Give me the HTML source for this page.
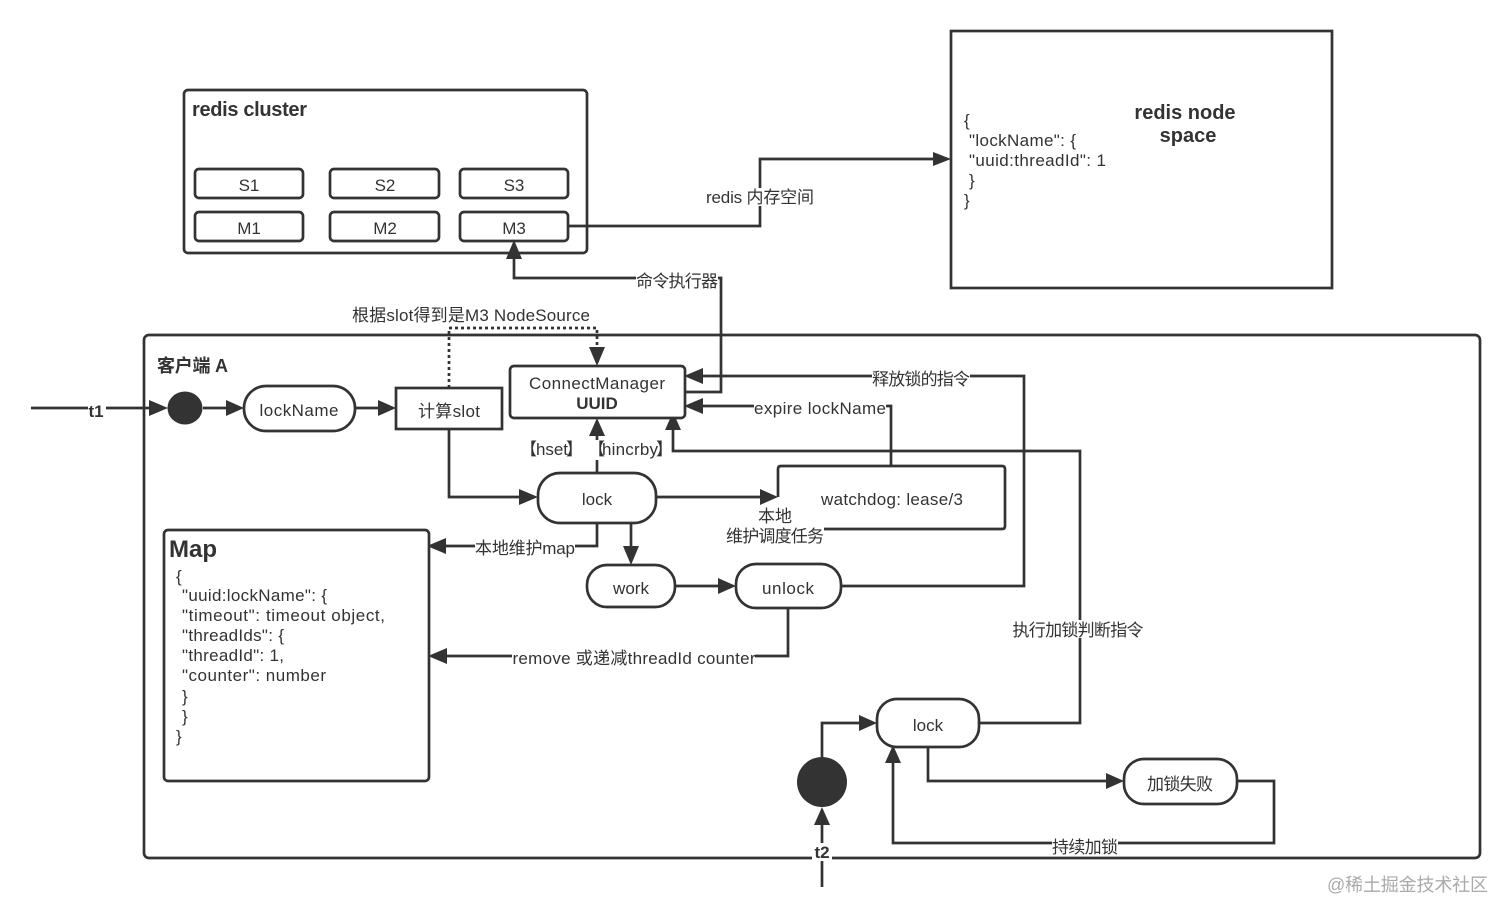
<!DOCTYPE html>
<html><head><meta charset="utf-8">
<style>
html,body{margin:0;padding:0;background:#fff;width:1512px;height:919px;overflow:hidden}
svg{display:block;filter:blur(0.35px)}
text{font-family:"Liberation Sans","Noto Sans CJK SC",sans-serif;font-size:17px;fill:#333}
.c{text-anchor:middle}
.b{font-weight:bold}
.n{fill:#fff;stroke:#333;stroke-width:2.7}
.l{fill:none;stroke:#333;stroke-width:2.7}
.a{fill:#333;stroke:none}
.w{fill:#fff;stroke:none}
</style></head><body>
<svg width="1512" height="919" viewBox="0 0 1512 919" xmlns="http://www.w3.org/2000/svg">
<!-- containers -->
<rect class="n" x="184" y="90" width="403" height="163" rx="4"/>
<rect class="n" x="951" y="31" width="381" height="257"/>
<rect class="n" x="144" y="335" width="1336" height="523" rx="5"/>
<!-- cluster nodes -->
<rect class="n" x="195" y="169" width="108" height="29" rx="4"/>
<rect class="n" x="330" y="169" width="109" height="29" rx="4"/>
<rect class="n" x="460" y="169" width="108" height="29" rx="4"/>
<rect class="n" x="195" y="212" width="108" height="29" rx="4"/>
<rect class="n" x="330" y="212" width="109" height="29" rx="4"/>
<rect class="n" x="460" y="212" width="108" height="29" rx="4"/>
<!-- connectors -->
<path class="l" d="M31 408H155"/>
<path class="l" d="M203 408H232"/>
<path class="l" d="M355 408H384"/>
<path class="l" d="M449 388V328H597V354" stroke-dasharray="3 3"/>
<path class="l" d="M449 429V497H526"/>
<path class="l" d="M597 473V428"/>
<path class="l" d="M685 392H721V278H514V254"/>
<path class="l" d="M568 226H760V159H938"/>
<path class="l" d="M841 586H1024V376H697"/>
<path class="l" d="M891 466V406H697"/>
<path class="l" d="M979 723H1080V451H673V425"/>
<path class="l" d="M656 497H766"/>
<path class="l" d="M597 523V546H441"/>
<path class="l" d="M631 523V553"/>
<path class="l" d="M675 586H724"/>
<path class="l" d="M788 608V656H441"/>
<path class="l" d="M822 887V820"/>
<path class="l" d="M822 757V723H865"/>
<path class="l" d="M928 747V781H1112"/>
<path class="l" d="M1237 781H1274V843H893V758"/>
<!-- arrowheads -->
<polygon class="a" points="168,408 149,400 149,416"/>
<polygon class="a" points="244,408 226,400 226,416"/>
<polygon class="a" points="396,408 378,400 378,416"/>
<polygon class="a" points="597,366 589,347 605,347"/>
<polygon class="a" points="538,497 519,489 519,505"/>
<polygon class="a" points="597,418 589,436 605,436"/>
<polygon class="a" points="514,240 506,259 522,259"/>
<polygon class="a" points="951,159 933,152 933,166"/>
<polygon class="a" points="684,376 703,368 703,384"/>
<polygon class="a" points="684,406 703,398 703,414"/>
<polygon class="a" points="673,412 665,430 681,430"/>
<polygon class="a" points="778,497 760,489 760,505"/>
<polygon class="a" points="427,546 446,538 446,554"/>
<polygon class="a" points="631,565 623,546 639,546"/>
<polygon class="a" points="736,586 718,578 718,594"/>
<polygon class="a" points="428,656 447,648 447,664"/>
<polygon class="a" points="822,807 814,825 830,825"/>
<polygon class="a" points="877,723 859,715 859,731"/>
<polygon class="a" points="1124,781 1106,773 1106,789"/>
<polygon class="a" points="893,745 885,763 901,763"/>
<!-- nodes -->
<ellipse class="a" cx="185" cy="408" rx="17.5" ry="16.5"/>
<ellipse class="a" cx="822" cy="782" rx="25" ry="25"/>
<rect class="n" x="244" y="386" width="111" height="45" rx="22"/>
<rect class="n" x="396" y="388" width="106" height="41"/>
<rect class="n" x="510" y="366" width="175" height="52" rx="4"/>
<rect class="n" x="538" y="473" width="118" height="50" rx="22"/>
<path class="n" d="M778 497V469Q778 466 781 466H1002Q1005 466 1005 469V526Q1005 529 1002 529H800"/>
<rect class="n" x="164" y="530" width="265" height="251" rx="4"/>
<rect class="n" x="587" y="565" width="88" height="42" rx="20"/>
<rect class="n" x="736" y="564" width="105" height="44" rx="20"/>
<rect class="n" x="877" y="699" width="102" height="48" rx="20"/>
<rect class="n" x="1124" y="759" width="113" height="45" rx="20"/>
<!-- label backgrounds -->
<rect class="w" x="88" y="400" width="18" height="18"/>
<rect class="w" x="636" y="272" width="82" height="18"/>
<rect class="w" x="706" y="188" width="108" height="18"/>
<rect class="w" x="872" y="369" width="98" height="18"/>
<rect class="w" x="754" y="398" width="132" height="18"/>
<rect class="w" x="1013" y="620" width="131" height="18"/>
<rect class="w" x="475" y="538" width="100" height="18"/>
<rect class="w" x="512" y="648" width="243" height="18"/>
<rect class="w" x="1052" y="837" width="66" height="18"/>
<rect class="w" x="812" y="843" width="20" height="18"/>
<rect class="w" x="726" y="506" width="98" height="40"/>
<rect class="w" x="522" y="440" width="146" height="20"/>
<!-- text -->
<text class="b" x="192" y="116" style="font-size:20px" textLength="115">redis cluster</text>
<text class="c" x="249" y="191">S1</text>
<text class="c" x="385" y="191">S2</text>
<text class="c" x="514" y="191">S3</text>
<text class="c" x="249" y="234">M1</text>
<text class="c" x="385" y="234">M2</text>
<text class="c" x="514" y="234">M3</text>
<text class="c b" x="1185" y="119" style="font-size:20px">redis node</text>
<text class="c b" x="1188" y="142" style="font-size:20px">space</text>
<text x="964" y="126">{</text>
<text x="969" y="146" textLength="107">"lockName": {</text>
<text x="969" y="166" textLength="137">"uuid:threadId": 1</text>
<text x="969" y="186">}</text>
<text x="964" y="206">}</text>
<text class="c" x="760" y="203" textLength="108">redis 内存空间</text>
<text class="c" x="677" y="287" textLength="82">命令执行器</text>
<text x="352" y="321" textLength="238">根据slot得到是M3 NodeSource</text>
<text class="b" x="157" y="372" style="font-size:18px" textLength="71">客户端 A</text>
<text class="c b" x="96" y="417">t1</text>
<text class="c" x="299" y="416" textLength="79">lockName</text>
<text class="c" x="449" y="417" textLength="62">计算slot</text>
<text class="c" x="597" y="389" textLength="136">ConnectManager</text>
<text class="c b" x="597" y="409">UUID</text>
<text x="520" y="455">【</text>
<text x="536" y="455" textLength="32">hset</text>
<text x="566" y="455">】</text>
<text x="588" y="455">【</text>
<text x="602" y="455" textLength="56">hincrby</text>
<text x="656" y="455">】</text>
<text class="c" x="597" y="505">lock</text>
<text class="c" x="892" y="505" textLength="142">watchdog: lease/3</text>
<text class="c" x="775" y="522">本地</text>
<text class="c" x="775" y="542" textLength="98">维护调度任务</text>
<text class="c" x="921" y="385" textLength="98">释放锁的指令</text>
<text class="c" x="820" y="414" textLength="132">expire lockName</text>
<text class="c" x="525" y="554" textLength="100">本地维护map</text>
<text class="c" x="631" y="594">work</text>
<text class="c" x="788" y="594" textLength="52">unlock</text>
<text class="c" x="634" y="664" textLength="243">remove 或递减threadId counter</text>
<text class="c" x="1078" y="636" textLength="131">执行加锁判断指令</text>
<text class="c" x="928" y="731">lock</text>
<text class="c" x="1180" y="790" textLength="66">加锁失败</text>
<text class="c" x="1085" y="853" textLength="66">持续加锁</text>
<text class="c b" x="822" y="858">t2</text>
<text class="b" x="169" y="557" style="font-size:24px">Map</text>
<text x="176" y="582">{</text>
<text x="182" y="601" textLength="145">"uuid:lockName": {</text>
<text x="182" y="621" textLength="203">"timeout": timeout object,</text>
<text x="182" y="641" textLength="102">"threadIds": {</text>
<text x="182" y="661" textLength="102">"threadId": 1,</text>
<text x="182" y="681" textLength="144">"counter": number</text>
<text x="182" y="702">}</text>
<text x="182" y="722">}</text>
<text x="176" y="742">}</text>
<text x="1327" y="891" style="font-size:18px;fill:#aaa" textLength="161">@稀土掘金技术社区</text>
</svg>
</body></html>
